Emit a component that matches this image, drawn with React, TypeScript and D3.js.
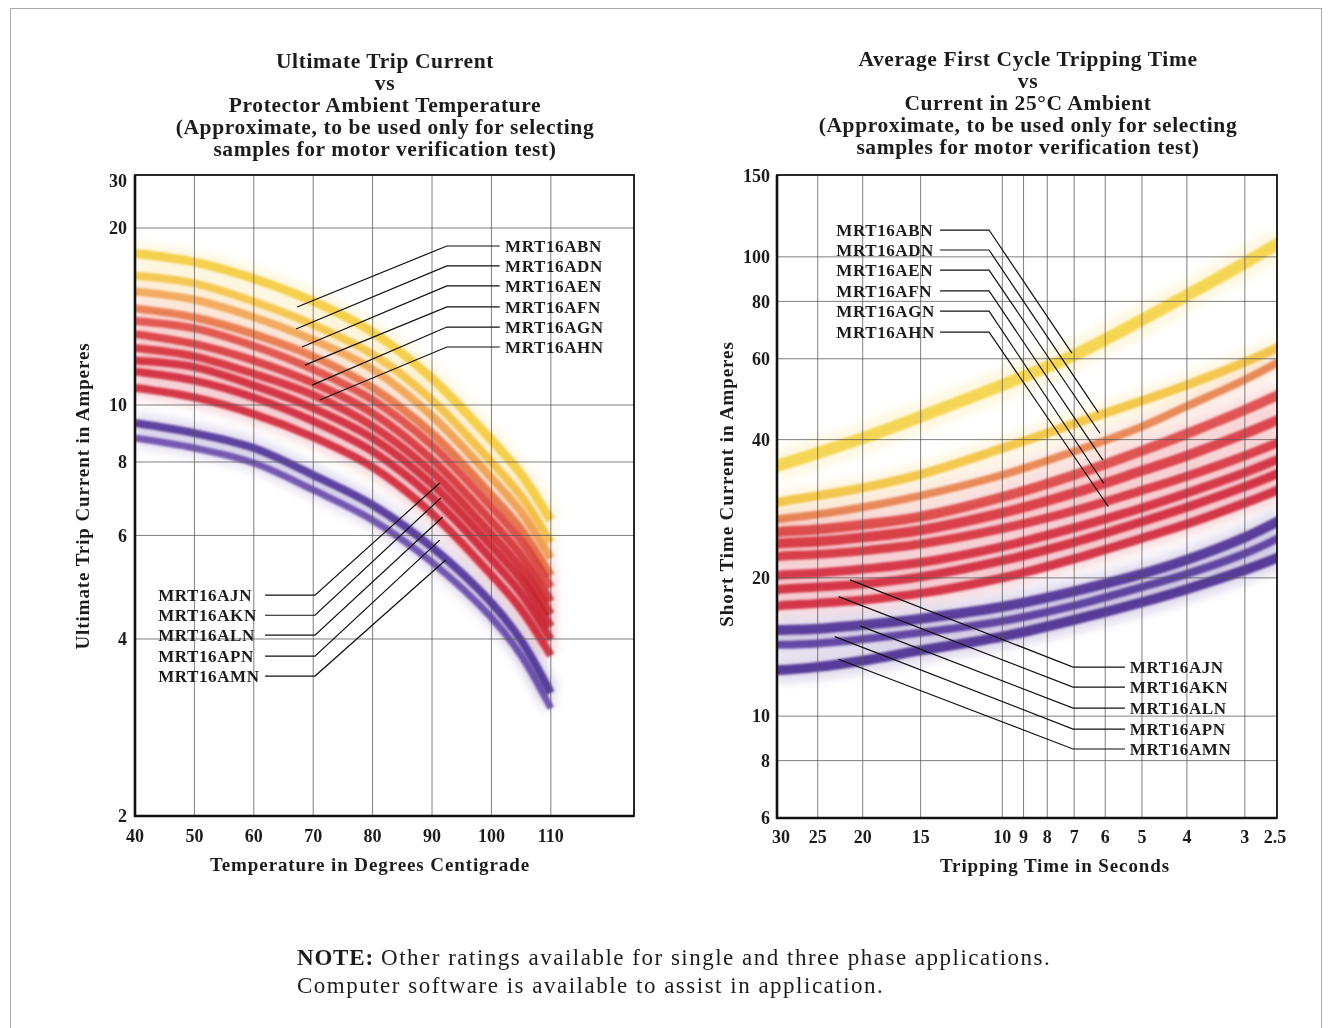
import React from 'react';
import * as d3 from 'd3';

// ---- left chart: ultimate trip current vs protector ambient temperature ----
const tempPoints = [40, 50, 60, 70, 80, 90, 100, 105, 110];
const tempTicks = [40, 50, 60, 70, 80, 90, 100, 110];
const tempGrid = [50, 60, 70, 80, 90, 100, 110];
const ultTicks = [2, 4, 6, 8, 10, 20, 30];
const ultGrid = [4, 6, 8, 10, 20];

const ultYellow1 = [18.1, 17.5, 16.4, 15.0, 13.3, 11.1, 8.72, 7.63, 6.37];
const ultYellow2 = [16.6, 16.1, 15.0, 13.7, 12.2, 10.2, 8.0, 7.0, 5.84];
const ultOrange1 = [15.6, 15.1, 14.1, 12.9, 11.5, 9.58, 7.52, 6.58, 5.49];
const ultOrange2 = [14.6, 14.1, 13.2, 12.1, 10.7, 8.95, 7.03, 6.15, 5.13];
const ultRed1 = [13.9, 13.5, 12.6, 11.5, 10.2, 8.54, 6.71, 5.87, 4.9];
const ultRed2 = [13.2, 12.7, 11.9, 10.9, 9.69, 8.08, 6.35, 5.55, 4.64];
const ultRed3 = [12.5, 12.1, 11.3, 10.4, 9.21, 7.69, 6.03, 5.28, 4.41];
const ultRed4 = [11.9, 11.6, 10.8, 9.88, 8.78, 7.33, 5.76, 5.04, 4.2];
const ultRed5 = [11.4, 11.0, 10.3, 9.39, 8.34, 6.97, 5.47, 4.78, 3.99];
const ultRed6 = [10.7, 10.3, 9.65, 8.82, 7.84, 6.54, 5.14, 4.49, 3.75];
const ultPurple1 = [9.32, 8.96, 8.45, 7.6, 6.76, 5.73, 4.61, 3.98, 3.24];
const ultPurple2 = [8.79, 8.45, 7.97, 7.17, 6.37, 5.4, 4.35, 3.75, 3.05];

// ---- right chart: first cycle tripping time vs current ----
const timePoints = [31, 30, 25, 20, 15, 10, 7, 5, 4, 3, 2.5];
const timeTicks = [30, 25, 20, 15, 10, 9, 8, 7, 6, 5, 4, 3, 2.5];
const timeGrid = [25, 20, 15, 10, 9, 8, 7, 6, 5, 4, 3];
const shortTicks = [6, 8, 10, 20, 40, 60, 80, 100, 150];
const shortGrid = [8, 10, 20, 40, 60, 80, 100];

const shortYellow1 = [34.9, 35.3, 37.4, 40.3, 44.9, 52.6, 61.1, 72.9, 82.5, 97.0, 108];
const shortYellow2 = [29.1, 29.3, 30.2, 31.4, 33.6, 38.3, 43.3, 48.6, 52.6, 59.0, 64.0];
const shortOrange = [26.8, 26.9, 27.5, 28.5, 30.2, 33.5, 37.7, 42.7, 47.3, 54.0, 59.5];
const shortRed1 = [25.1, 25.2, 25.5, 26.1, 27.2, 30.0, 33.5, 37.8, 41.2, 46.4, 50.4];
const shortRed2 = [23.7, 23.8, 24.0, 24.5, 25.4, 27.7, 30.6, 34.2, 36.9, 41.2, 44.5];
const shortRed3 = [22.2, 22.3, 22.5, 22.9, 23.7, 25.6, 28.0, 31.0, 33.3, 36.9, 39.7];
const shortRed4 = [20.2, 20.3, 20.5, 20.9, 21.6, 23.4, 25.7, 28.4, 30.6, 33.9, 36.5];
const shortRed5 = [18.8, 18.9, 19.1, 19.4, 20.1, 21.8, 23.9, 26.5, 28.5, 31.6, 34.0];
const shortRed6 = [17.3, 17.4, 17.6, 17.9, 18.5, 20.0, 22.0, 24.4, 26.2, 29.1, 31.3];
const shortPurple1 = [15.4, 15.4, 15.5, 15.8, 16.3, 17.3, 18.7, 20.4, 21.9, 24.5, 26.8];
const shortPurple2 = [14.3, 14.3, 14.4, 14.7, 15.2, 16.1, 17.4, 19.1, 20.4, 22.6, 24.6];
const shortPurple3 = [12.6, 12.6, 12.8, 13.2, 13.9, 14.9, 16.2, 17.7, 18.9, 20.8, 22.3];

// ---- model call-outs (label row and curve point, in chart units) ----
const upperModels = ['MRT16ABN', 'MRT16ADN', 'MRT16AEN', 'MRT16AFN', 'MRT16AGN', 'MRT16AHN'];
const lowerModels = ['MRT16AJN', 'MRT16AKN', 'MRT16ALN', 'MRT16APN', 'MRT16AMN'];

const ultUpperRow = [18.64, 17.24, 15.94, 14.68, 13.57, 12.55];
const ultUpperTipTemp = [67.3, 67.1, 68.1, 68.6, 69.8, 71.1];
const ultUpperTipAmps = [14.68, 13.47, 12.55, 11.69, 10.81, 10.2];
const ultLowerRow = [4.75, 4.39, 4.06, 3.74, 3.46];
const ultLowerTipTemp = [91.3, 91.5, 91.8, 91.3, 92.3];
const ultLowerTipAmps = [7.37, 6.95, 6.45, 5.89, 5.45];

const shortUpperRow = [114.4, 103.5, 93.6, 84.3, 76.2, 68.6];
const shortUpperTipTime = [7.08, 6.21, 6.16, 6.07, 6.04, 5.91];
const shortUpperTipAmps = [61.7, 45.8, 41.3, 36.1, 32.1, 28.6];
const shortLowerRow = [12.79, 11.57, 10.41, 9.37, 8.48];
const shortLowerTipTime = [21.3, 22.55, 20.2, 22.97, 22.55];
const shortLowerTipAmps = [19.8, 18.2, 15.7, 14.9, 13.3];

const leftTitle = [
  'Ultimate Trip Current',
  'vs',
  'Protector Ambient Temperature',
  '(Approximate, to be used only for selecting',
  'samples for motor verification test)',
];
const rightTitle = [
  'Average First Cycle Tripping Time',
  'vs',
  'Current in 25°C Ambient',
  '(Approximate, to be used only for selecting',
  'samples for motor verification test)',
];

const SERIF = "'Liberation Serif', 'Times New Roman', serif";
const INK = '#1c1c1c';

const LEFT = { x0: 135, x1: 634, y0: 175, y1: 816 };
const RIGHT = { x0: 777, x1: 1277, y0: 175, y1: 818 };

const Band = ({ d, color, w }: { d: string; color: string; w: number }) => (
  <g style={{ mixBlendMode: 'multiply' }}>
    <path d={d} fill="none" stroke={color} strokeWidth={w * 2.6} opacity={0.16} filter="url(#halo)" />
    <path d={d} fill="none" stroke={color} strokeWidth={w} opacity={0.9} filter="url(#soft)" />
  </g>
);

const App = () => {
  const xTemp = d3.scaleLinear().domain([40, 124]).range([LEFT.x0, LEFT.x1]);
  const yUlt = d3.scaleLog().domain([2, 20, 30]).range([LEFT.y1, 228, 181]);
  const xTime = d3.scaleLog().domain([30, 2.5]).range([781, 1281.6]);
  const yShort = d3.scaleLog().domain([6, 150]).range([RIGHT.y1, RIGHT.y0 + 1]);

  const ultLine = d3
    .line<number>()
    .x((_, i) => xTemp(tempPoints[i]))
    .y((v) => yUlt(v))
    .curve(d3.curveCatmullRom.alpha(0.5));
  const shortLine = d3
    .line<number>()
    .x((_, i) => xTime(timePoints[i]))
    .y((v) => yShort(v))
    .curve(d3.curveCatmullRom.alpha(0.5));

  const ultSeries = [
    { values: ultPurple1, color: '#50309a', w: 8 },
    { values: ultPurple2, color: '#6a4cae', w: 7 },
    { values: ultRed6, color: '#d22538', w: 8 },
    { values: ultRed5, color: '#d4283a', w: 8 },
    { values: ultRed4, color: '#d62b3b', w: 8 },
    { values: ultRed3, color: '#d9303d', w: 8 },
    { values: ultRed2, color: '#dc3a40', w: 8 },
    { values: ultRed1, color: '#e2504a', w: 8 },
    { values: ultOrange2, color: '#ea7c4c', w: 8 },
    { values: ultOrange1, color: '#f2a655', w: 8 },
    { values: ultYellow2, color: '#f5c544', w: 8 },
    { values: ultYellow1, color: '#f4cc3e', w: 9 },
  ];
  const shortSeries = [
    { values: shortPurple3, color: '#4a2a90', w: 10 },
    { values: shortPurple2, color: '#5a3aa2', w: 8 },
    { values: shortPurple1, color: '#4e2e96', w: 10 },
    { values: shortRed6, color: '#d2253a', w: 9 },
    { values: shortRed5, color: '#d4283b', w: 9 },
    { values: shortRed4, color: '#d62c3c', w: 9 },
    { values: shortRed3, color: '#d8303e', w: 9 },
    { values: shortRed2, color: '#da3640', w: 10 },
    { values: shortRed1, color: '#df4544', w: 10 },
    { values: shortOrange, color: '#e8804c', w: 8 },
    { values: shortYellow2, color: '#f3c33e', w: 9 },
    { values: shortYellow1, color: '#f5d244', w: 12 },
  ];

  const gridStyle = { stroke: '#555', strokeWidth: 1, opacity: 0.75 };
  const tickText = { fontFamily: SERIF, fontSize: 18, fontWeight: 700, fill: INK } as const;
  const modelText = { fontFamily: SERIF, fontSize: 17, fontWeight: 700, fill: INK, letterSpacing: 0.6 } as const;
  const titleText = { fontFamily: SERIF, fontSize: 21.5, fontWeight: 700, fill: INK, letterSpacing: 0.6 } as const;
  const axisText = { fontFamily: SERIF, fontSize: 19, fontWeight: 700, fill: INK, letterSpacing: 0.9 } as const;
  const noteText = { fontFamily: SERIF, fontSize: 23, fill: INK, letterSpacing: 1.5 } as const;

  return (
    <svg
      width={1332}
      height={1028}
      style={{ position: 'absolute', left: 0, top: 0, background: '#fff' }}
    >
      <defs>
        <filter id="soft" x="-5%" y="-20%" width="110%" height="140%">
          <feGaussianBlur stdDeviation={1.1} />
        </filter>
        <filter id="halo" x="-10%" y="-40%" width="120%" height="180%">
          <feGaussianBlur stdDeviation={5} />
        </filter>
        <clipPath id="clipLeft">
          <rect x={LEFT.x0} y={LEFT.y0} width={LEFT.x1 - LEFT.x0} height={LEFT.y1 - LEFT.y0} />
        </clipPath>
        <clipPath id="clipRight">
          <rect x={RIGHT.x0} y={RIGHT.y0} width={RIGHT.x1 - RIGHT.x0} height={RIGHT.y1 - RIGHT.y0} />
        </clipPath>
      </defs>

      {/* page border */}
      <rect x={10.5} y={8.5} width={1311} height={1040} fill="none" stroke="#a8a8a8" strokeWidth={1} />

      {/* ---------- left chart ---------- */}
      {leftTitle.map((t, i) => (
        <text key={t} x={385} y={68 + i * 22} textAnchor="middle" {...titleText}>
          {t}
        </text>
      ))}
      <g clipPath="url(#clipLeft)">
        {ultSeries.map((s, i) => (
          <Band key={i} d={ultLine(s.values) || ''} color={s.color} w={s.w} />
        ))}
      </g>
      {tempGrid.map((t) => (
        <line key={t} x1={xTemp(t)} x2={xTemp(t)} y1={LEFT.y0} y2={LEFT.y1} {...gridStyle} />
      ))}
      {ultGrid.map((v) => (
        <line key={v} x1={LEFT.x0} x2={LEFT.x1} y1={yUlt(v)} y2={yUlt(v)} {...gridStyle} />
      ))}
      <rect x={LEFT.x0} y={LEFT.y0} width={LEFT.x1 - LEFT.x0} height={LEFT.y1 - LEFT.y0} fill="none" stroke="#111" strokeWidth={1.8} />
      <line x1={LEFT.x0} x2={LEFT.x0} y1={LEFT.y0} y2={LEFT.y1 + 1} stroke="#111" strokeWidth={2.6} />
      <line x1={LEFT.x0 - 1} x2={LEFT.x1} y1={LEFT.y1} y2={LEFT.y1} stroke="#111" strokeWidth={2.6} />
      {ultTicks.map((v) => (
        <text key={v} x={127} y={yUlt(v)} dy="0.35em" textAnchor="end" {...tickText}>
          {v}
        </text>
      ))}
      {tempTicks.map((t) => (
        <text key={t} x={xTemp(t)} y={842} textAnchor="middle" {...tickText}>
          {t}
        </text>
      ))}
      <text x={370} y={871} textAnchor="middle" {...axisText}>
        Temperature in Degrees Centigrade
      </text>
      <text transform="translate(89,496) rotate(-90)" textAnchor="middle" {...axisText}>
        Ultimate Trip Current in Amperes
      </text>

      {upperModels.map((m, i) => {
        const yRow = yUlt(ultUpperRow[i]);
        const d = `M${xTemp(ultUpperTipTemp[i])},${yUlt(ultUpperTipAmps[i])}L${xTemp(92.5)},${yRow}L${xTemp(101.4)},${yRow}`;
        return (
          <g key={m}>
            <path d={d} fill="none" stroke="#111" strokeWidth={1.2} />
            <text x={xTemp(102.3)} y={yRow} dy="0.35em" {...modelText}>
              {m}
            </text>
          </g>
        );
      })}
      {lowerModels.map((m, i) => {
        const yRow = yUlt(ultLowerRow[i]);
        const d = `M${xTemp(ultLowerTipTemp[i])},${yUlt(ultLowerTipAmps[i])}L${xTemp(70.3)},${yRow}L${xTemp(61.9)},${yRow}`;
        return (
          <g key={m}>
            <path d={d} fill="none" stroke="#111" strokeWidth={1.2} />
            <text x={xTemp(43.9)} y={yRow} dy="0.35em" {...modelText}>
              {m}
            </text>
          </g>
        );
      })}

      {/* ---------- right chart ---------- */}
      {rightTitle.map((t, i) => (
        <text key={t} x={1028} y={66 + i * 22} textAnchor="middle" {...titleText}>
          {t}
        </text>
      ))}
      <g clipPath="url(#clipRight)">
        {shortSeries.map((s, i) => (
          <Band key={i} d={shortLine(s.values) || ''} color={s.color} w={s.w} />
        ))}
      </g>
      {timeGrid.map((t) => (
        <line key={t} x1={xTime(t)} x2={xTime(t)} y1={RIGHT.y0} y2={RIGHT.y1} {...gridStyle} />
      ))}
      {shortGrid.map((v) => (
        <line key={v} x1={RIGHT.x0} x2={RIGHT.x1} y1={yShort(v)} y2={yShort(v)} {...gridStyle} />
      ))}
      <rect x={RIGHT.x0} y={RIGHT.y0} width={RIGHT.x1 - RIGHT.x0} height={RIGHT.y1 - RIGHT.y0} fill="none" stroke="#111" strokeWidth={1.8} />
      <line x1={RIGHT.x0} x2={RIGHT.x0} y1={RIGHT.y0} y2={RIGHT.y1 + 1} stroke="#111" strokeWidth={2.6} />
      <line x1={RIGHT.x0 - 1} x2={RIGHT.x1} y1={RIGHT.y1} y2={RIGHT.y1} stroke="#111" strokeWidth={2.6} />
      {shortTicks.map((v) => (
        <text key={v} x={770} y={yShort(v)} dy="0.35em" textAnchor="end" {...tickText}>
          {v}
        </text>
      ))}
      {timeTicks.map((t) => (
        <text
          key={t}
          x={Math.min(Math.max(xTime(t), RIGHT.x0), RIGHT.x1 - 2)}
          y={843}
          textAnchor="middle"
          {...tickText}
        >
          {t}
        </text>
      ))}
      <text x={1055} y={872} textAnchor="middle" {...axisText}>
        Tripping Time in Seconds
      </text>
      <text transform="translate(733,484) rotate(-90)" textAnchor="middle" {...axisText}>
        Short Time Current in Amperes
      </text>

      {upperModels.map((m, i) => {
        const yRow = yShort(shortUpperRow[i]);
        const d = `M${xTime(shortUpperTipTime[i])},${yShort(shortUpperTipAmps[i])}L${xTime(10.68)},${yRow}L${xTime(13.62)},${yRow}`;
        return (
          <g key={m}>
            <path d={d} fill="none" stroke="#111" strokeWidth={1.2} />
            <text x={xTime(22.8)} y={yRow} dy="0.35em" {...modelText}>
              {m}
            </text>
          </g>
        );
      })}
      {lowerModels.map((m, i) => {
        const yRow = yShort(shortLowerRow[i]);
        const d = `M${xTime(shortLowerTipTime[i])},${yShort(shortLowerTipAmps[i])}L${xTime(7.04)},${yRow}L${xTime(5.44)},${yRow}`;
        return (
          <g key={m}>
            <path d={d} fill="none" stroke="#111" strokeWidth={1.2} />
            <text x={xTime(5.31)} y={yRow} dy="0.35em" {...modelText}>
              {m}
            </text>
          </g>
        );
      })}

      {/* ---------- note ---------- */}
      <text x={297} y={965} {...noteText}>
        <tspan fontWeight={700} letterSpacing={0.8}>NOTE:</tspan>
        <tspan> Other ratings available for single and three phase applications.</tspan>
      </text>
      <text x={297} y={993} {...noteText}>
        Computer software is available to assist in application.
      </text>
    </svg>
  );
};

export default App;
